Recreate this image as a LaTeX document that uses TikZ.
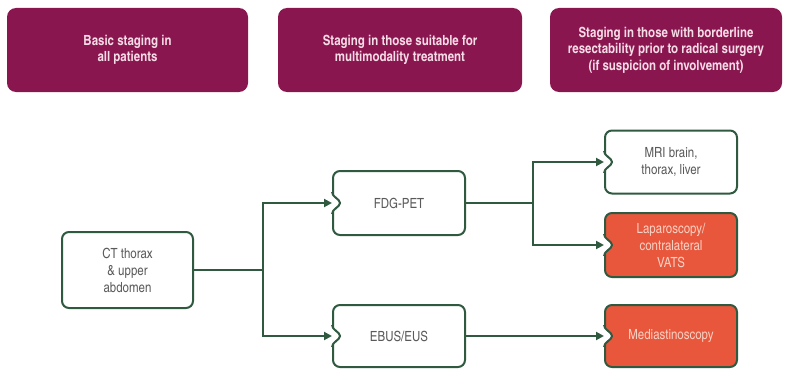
\documentclass[tikz,border=0pt]{standalone}
\usepackage{fontspec}
\setmainfont{texgyreheroscn}[Extension=.otf, UprightFont=*-regular, BoldFont=*-bold]
\usepackage{tikz}
\usetikzlibrary{arrows.meta}

\definecolor{maroon}{HTML}{8A1650}
\definecolor{darkgreen}{HTML}{2F5A40}
\definecolor{redbox}{HTML}{E8563C}
\definecolor{headtext}{HTML}{F6DCE6}
\definecolor{boxtext}{HTML}{5A5A5A}
\definecolor{redtext}{HTML}{F8D2C4}

% notch on the left side of a target box
\newcommand{\notch}[2]{%
  \fill[#2] ([xshift=-2pt,yshift=11pt]#1.west) -- ([yshift=11pt]#1.west)
    .. controls +(0,-5pt) and +(0,4pt) .. ([xshift=8pt]#1.west)
    .. controls +(0,-4pt) and +(0,5pt) .. ([yshift=-11pt]#1.west)
    -- ([xshift=-2pt,yshift=-11pt]#1.west) -- cycle;
  \draw[darkgreen, line width=2pt] ([yshift=11pt]#1.west)
    .. controls +(0,-5pt) and +(0,4pt) .. ([xshift=8pt]#1.west)
    .. controls +(0,-4pt) and +(0,5pt) .. ([yshift=-11pt]#1.west);
}

\begin{document}
\begin{tikzpicture}[x=1pt, y=-1pt,
    header/.style={fill=maroon, rounded corners=9pt, minimum height=84pt,
      text=headtext, font=\bfseries\fontsize{14}{16.5}\selectfont, align=center},
    box/.style={draw=darkgreen, line width=2pt, fill=white, rounded corners=7pt,
      minimum width=132pt, text=boxtext, font=\fontsize{14}{17}\selectfont, align=center},
    redbx/.style={box, fill=redbox, text=redtext},
    line/.style={darkgreen, line width=2pt},
    arrow/.style={line, -{Triangle[length=8pt,width=8pt]}}]
  \useasboundingbox (0,0) rectangle (787,369);

  % Headers
  \node[header, minimum width=241pt] (head1) at (127.5,50) {Basic staging in\\all patients};
  \node[header, minimum width=244pt] (head2) at (400,50) {Staging in those suitable for\\multimodality treatment};
  \node[header, minimum width=232pt] (head3) at (666,50) {Staging in those with borderline\\resectability prior to radical surgery\\(if suspicion of involvement)};

  % Boxes
  \node[box, minimum width=131pt, minimum height=76pt] (ct) at (127.5,270) {CT thorax\\\& upper\\abdomen};
  \node[box, minimum height=64pt] (fdg) at (399,203) {FDG-PET};
  \node[box, minimum height=62pt] (ebus) at (399,336) {EBUS/EUS};
  \node[box, minimum height=63pt] (mri) at (671,162) {MRI brain,\\thorax, liver};
  \node[redbx, minimum height=64pt] (lap) at (671,245) {Laparoscopy/\\contralateral\\VATS};
  \node[redbx, minimum height=62pt] (med) at (671,336) {Mediastinoscopy};

  \notch{fdg}{white}
  \notch{ebus}{white}
  \notch{mri}{white}
  \notch{lap}{white}
  \notch{med}{white}

  % Connectors
  \coordinate (split1) at (263,270);
  \coordinate (split2) at (533,203);
  \draw[line] (ct.east) -- (split1);
  \draw[arrow] (split1) |- (fdg.west);
  \draw[arrow] (split1) |- (ebus.west);
  \draw[line] (fdg.east) -- (split2);
  \draw[arrow] (split2) |- (mri.west);
  \draw[arrow] (split2) |- (lap.west);
  \draw[arrow] (ebus.east) -- (med.west);
\end{tikzpicture}
\end{document}
